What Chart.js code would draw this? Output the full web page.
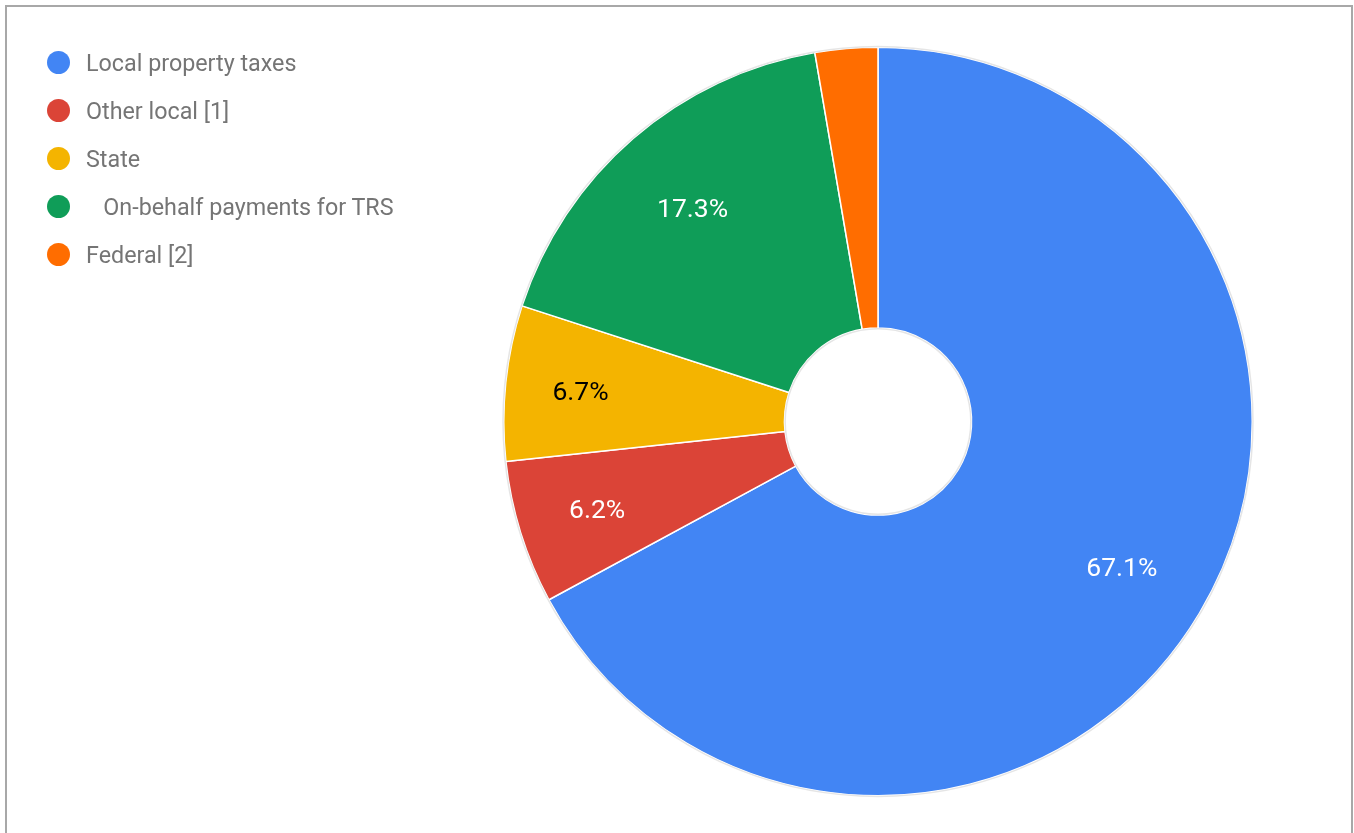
<!DOCTYPE html>
<html>
<head>
<meta charset="utf-8">
<script src="https://cdn.jsdelivr.net/npm/chart.js"></script>
<style>
  html, body { margin: 0; padding: 0; background: #fff; overflow: hidden; }
  #wrap { position: relative; width: 1354px; height: 833px; }
  #frame {
    position: absolute; left: 5px; top: 5px; width: 1344px; height: 900px;
    border: 2px solid #a8a8a8; border-bottom: none;
  }
  #myChart { position: absolute; left: 0; top: 0; }
  #legend { position: absolute; left: 0; top: 38.5px; font-family: Roboto, sans-serif; }
  .item { position: relative; height: 48px; line-height: 48px; font-size: 23.3px; color: #757575; white-space: pre; }
  .dot { position: absolute; left: 46.5px; top: 12px; width: 23px; height: 23px; border-radius: 50%; }
  .txt { position: absolute; left: 86px; top: 0; }
</style>
</head>
<body>
<div id="wrap">
  <div id="frame"></div>
  <canvas id="myChart" width="1354" height="833"></canvas>
  <div id="legend"></div>
</div>
<script>
const sources = ["Local property taxes", "Other local [1]", "State", "   On-behalf payments for TRS", "Federal [2]"];
const shares = [67.1, 6.2, 6.7, 17.3, 2.7];
const sliceColors = ["#4285F4", "#DB4437", "#F4B400", "#0F9D58", "#FF6D00"];

// legend on the left, built from the same arrays
const legend = document.getElementById("legend");
sources.forEach((name, i) => {
    const row = document.createElement("div");
    row.className = "item";
    row.innerHTML = '<span class="dot" style="background:' + sliceColors[i] + '"></span><span class="txt"></span>';
    row.querySelector(".txt").textContent = name;
    legend.appendChild(row);
});

// dark text on light slices, white otherwise
function textColorFor(hex) {
    const r = parseInt(hex.substr(1, 2), 16), g = parseInt(hex.substr(3, 2), 16), b = parseInt(hex.substr(5, 2), 16);
    return (0.299 * r + 0.587 * g + 0.114 * b) > 160 ? "#000" : "#fff";
}

// faint grey rim on the outer edge and round the hole
const rimPlugin = {
    id: 'rim',
    afterDatasetsDraw(chart) {
        const arc = chart.getDatasetMeta(0).data[0];
        if (!arc) return;
        const c = chart.ctx;
        c.save();
        c.strokeStyle = 'rgba(0,0,0,0.10)';
        c.lineWidth = 1.5;
        c.beginPath();
        c.arc(arc.x, arc.y, arc.outerRadius + 0.75, 0, Math.PI * 2);
        c.stroke();
        c.beginPath();
        c.arc(arc.x, arc.y, arc.innerRadius - 0.75, 0, Math.PI * 2);
        c.stroke();
        c.restore();
    }
};

// percentage text inside each slice; the padded text box's outer side sits on a fixed ring,
// and the label is skipped when the slice is too narrow for it
const sliceLabels = {
    id: 'sliceLabels',
    afterDatasetsDraw(chart) {
        const meta = chart.getDatasetMeta(0);
        const data = chart.data.datasets[0].data;
        const total = data.reduce((a, b) => a + b, 0);
        const c = chart.ctx;
        const size = 26.5;
        c.save();
        c.font = size + 'px Roboto';
        c.textAlign = 'center';
        c.textBaseline = 'alphabetic';
        meta.data.forEach((arc, i) => {
            const text = (data[i] / total * 100).toFixed(1) + '%';
            const mid = (arc.startAngle + arc.endAngle) / 2;
            const w = c.measureText(text).width;
            const dx = Math.cos(mid), dy = Math.sin(mid);
            const ring = arc.innerRadius + (arc.outerRadius - arc.innerRadius) * 0.843;
            const r = ring - (Math.abs(dx) * w / 2 + Math.abs(dy) * size * 1.17);
            const span = (arc.endAngle - arc.startAngle) * r;
            if (span < w + 4) return;
            c.fillStyle = textColorFor(sliceColors[i]);
            // baseline put so the digits are centred on the anchor point
            c.fillText(text, arc.x + dx * r, arc.y + dy * r + size * 0.355);
        });
        c.restore();
    }
};

const ctx = document.getElementById("myChart").getContext('2d');
const myChart = new Chart(ctx, {
    type: 'doughnut',
    data: {
        labels: sources,
        datasets: [{
            data: shares,
            backgroundColor: sliceColors,
            borderColor: '#ffffff',
            borderWidth: 1.5
        }]
    },
    options: {
        responsive: false,
        animation: false,
        cutout: '25%',
        layout: {
            padding: { left: 503, right: 101, top: 46, bottom: 36 }
        },
        plugins: {
            legend: { display: false },
            tooltip: { enabled: false }
        }
    },
    plugins: [rimPlugin, sliceLabels]
});
</script>
</body>
</html>
